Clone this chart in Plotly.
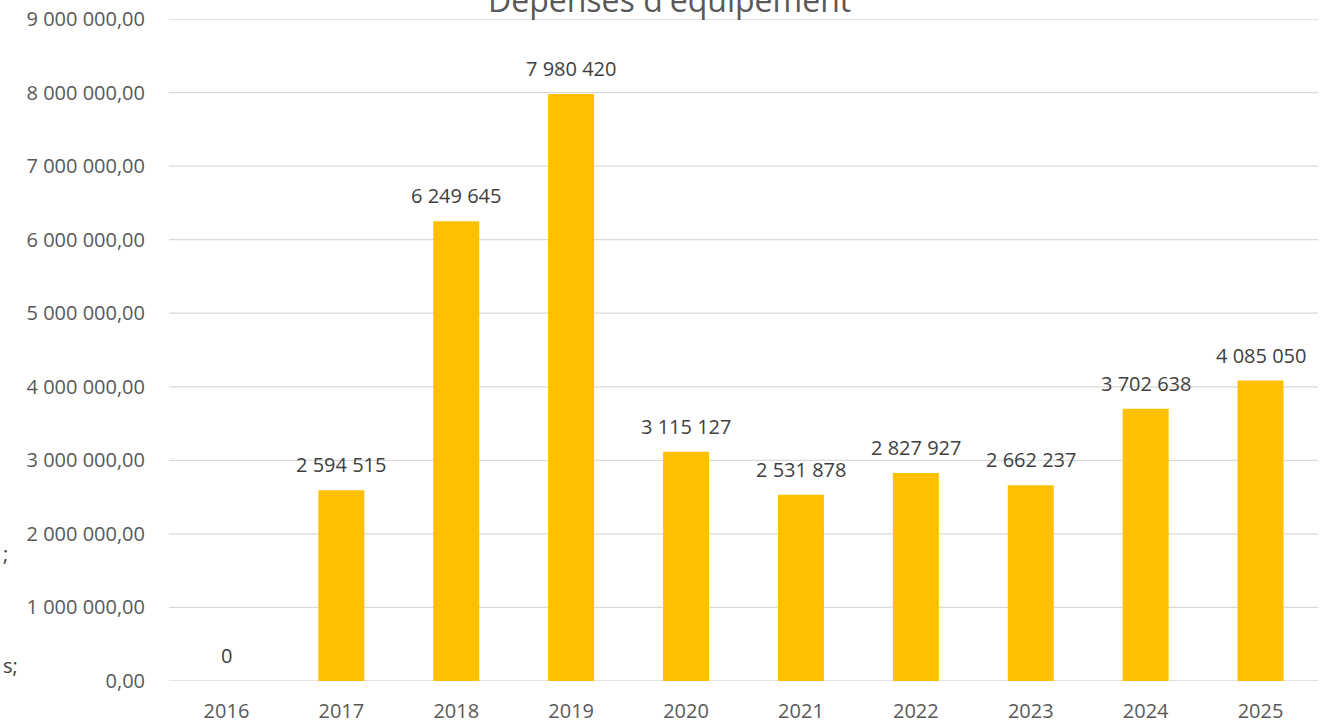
import plotly.graph_objects as go

years = ["2016", "2017", "2018", "2019", "2020", "2021", "2022", "2023", "2024", "2025"]
depenses = [0, 2594515, 6249645, 7980420, 3115127, 2531878, 2827927, 2662237, 3702638, 4085050]
labels = ["0", "2 594 515", "6 249 645", "7 980 420", "3 115 127", "2 531 878",
          "2 827 927", "2 662 237", "3 702 638", "4 085 050"]
ytick_vals = [0, 1e6, 2e6, 3e6, 4e6, 5e6, 6e6, 7e6, 8e6, 9e6]
ytick_text = ["0,00", "1 000 000,00", "2 000 000,00", "3 000 000,00", "4 000 000,00",
              "5 000 000,00", "6 000 000,00", "7 000 000,00", "8 000 000,00", "9 000 000,00"]
title = "Dépenses d'équipement"

FONT = "Open Sans"
W, H = 1332, 722
ml, mr, mt, mb = 168.5, 13.5, 18.5, 41
pw, ph = W - ml - mr, H - mt - mb

xpos = list(range(len(years)))

fig = go.Figure()
fig.add_trace(go.Bar(
    x=xpos, y=depenses, marker=dict(color="#FFC000", line=dict(width=0)),
    width=0.4, hoverinfo="skip",
))

# horizontal gridlines at each y tick
for tv in ytick_vals:
    fig.add_shape(type="line", xref="paper", yref="y", x0=0, x1=1, y0=tv, y1=tv,
                  line=dict(color="#D9D9D9", width=1.3), layer="below")

for xi, v, lab in zip(xpos, depenses, labels):
    fig.add_annotation(x=xi, y=v, text=lab, showarrow=False, xref="x", yref="y",
                       xanchor="center", yanchor="bottom", yshift=10,
                       font=dict(family=FONT, size=20, color="#404040"))

fig.add_annotation(x=(669 - ml) / pw, y=1 + 20 / ph, xref="paper", yref="paper",
                   text=title, showarrow=False, xanchor="center", yanchor="middle",
                   font=dict(family=FONT, size=32, color="#595959"))

# stray fragments at left edge
fig.add_annotation(x=-ml / pw, y=(H - mb - 553) / ph, xref="paper", yref="paper", text=";",
                   showarrow=False, xanchor="left", yanchor="middle",
                   font=dict(family=FONT, size=20, color="#404040"))
fig.add_annotation(x=-ml / pw, y=(H - mb - 665) / ph, xref="paper", yref="paper", text="s;",
                   showarrow=False, xanchor="left", yanchor="middle",
                   font=dict(family=FONT, size=20, color="#404040"))

fig.update_layout(
    width=W, height=H,
    margin=dict(l=ml, r=mr, t=mt, b=mb, pad=0, autoexpand=False),
    paper_bgcolor="white", plot_bgcolor="white",
    showlegend=False,
    font=dict(family=FONT, size=20, color="#595959"),
)
fig.update_xaxes(range=[-0.5, len(years) - 0.5], tickvals=xpos, ticktext=years,
                 showgrid=False, showline=False, zeroline=False, automargin=False,
                 ticks="", ticklabelstandoff=16,
                 tickfont=dict(family=FONT, size=20, color="#595959"))
fig.update_yaxes(range=[0, 9e6], tickvals=ytick_vals, ticktext=ytick_text,
                 showgrid=False, automargin=False, zeroline=False,
                 showline=False, ticks="", ticklabelstandoff=23,
                 tickfont=dict(family=FONT, size=20, color="#595959"))

fig.write_html("out.html", config={"displayModeBar": False},
               post_script="document.body.style.margin='0';document.body.style.overflow='hidden';")
